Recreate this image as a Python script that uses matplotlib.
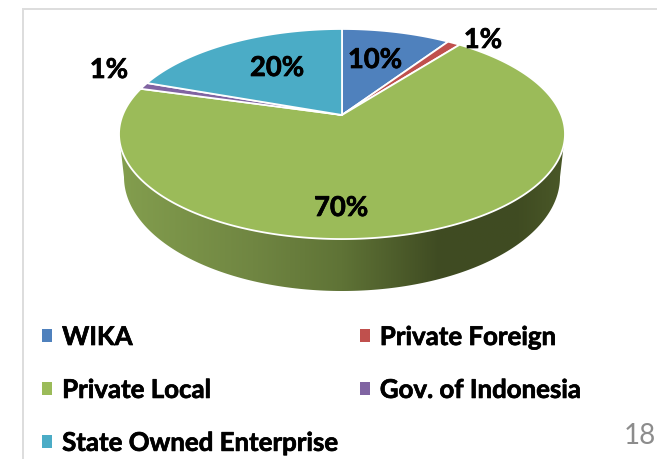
import numpy as np
import matplotlib
matplotlib.use("Agg")
import matplotlib.pyplot as plt
import matplotlib.patheffects as pe
from matplotlib.colors import LinearSegmentedColormap
from matplotlib.patches import Patch, Polygon
from matplotlib.path import Path
from matplotlib.transforms import Transform

categories = ["WIKA", "Private Foreign", "Private Local", "Gov. of Indonesia", "State Owned Enterprise"]
values = [9.4, 1.1, 68.9, 1.05, 19.6]
pct_labels = ["10%", "1%", "70%", "1%", "20%"]
colors = ["#4F81BD", "#C0504D", "#9BBB59", "#8064A2", "#4BACC6"]

label_xy = [(375, 61), (483, 41), (341, 209), (109, 71), (277, 69)]
legend_order = [0, 2, 4, 1, 3]

W, H = 657, 460
CX, CY, RA, RB, K = 342.0, 116.0, 219.3, 101.6, 0.181

plt.rcParams["font.family"] = ["Lato", "DejaVu Sans"]
thicken = [pe.withStroke(linewidth=0.5, foreground="black")]


class TiltedDisc(Transform):
    """Perspective view of the unit-circle pie, output in pixel-like data units."""
    input_dims = output_dims = 2
    is_separable = False
    has_inverse = False

    def transform_non_affine(self, xy):
        xy = np.asarray(xy, float)
        w = 1 + K * xy[:, 1]
        return np.column_stack([CX + RA * xy[:, 0] / w, CY - RB * xy[:, 1] / w])

    def transform_path_non_affine(self, path):
        pts = []
        for seg, code in path.iter_bezier():
            if code == Path.MOVETO:
                continue
            pts.append(seg(np.linspace(0, 1, 40)))
        return Path(self.transform_non_affine(np.vstack(pts)), closed=False)


fig = plt.figure(figsize=(W / 100, H / 100), dpi=100)
ax = fig.add_axes([0, 0, 1, 1])

wedges, _ = ax.pie(values, colors=colors, startangle=90, counterclock=False,
                   wedgeprops=dict(edgecolor="white", linewidth=1.3,
                                   transform=TiltedDisc() + ax.transData, zorder=3))

# side wall of the disc
t = np.linspace(0, 1, 200)
a = np.pi * t
top_x = CX - 223 * np.cos(a)
top_y = 135 + 105 * np.sin(a)
bot_x = CX - 218 * np.cos(a)
bot_y = 178 + 114 * np.sin(a)
wall = Polygon(np.column_stack([np.r_[top_x, bot_x[::-1]], np.r_[top_y, bot_y[::-1]]]),
               closed=True, transform=ax.transData, facecolor="none", edgecolor="none")
ax.add_patch(wall)
cmap = LinearSegmentedColormap.from_list("wall", [
    (0.00, "#839E4E"), (0.30, "#708642"), (0.50, "#5F7336"),
    (0.72, "#3F4B22"), (0.90, "#404C22"), (1.00, "#4A5828")])
im = ax.imshow(np.linspace(0, 1, 256)[None, :], cmap=cmap, aspect="auto",
               extent=(119, 565, 300, 130), zorder=2)
im.set_clip_path(wall)

for txt, (x, y) in zip(pct_labels, label_xy):
    ax.text(x, y, txt, ha="center", va="center", fontsize=19.7, fontweight="bold",
            color="black", zorder=5, path_effects=thicken)

handles = [Patch(facecolor=colors[i], edgecolor="none") for i in legend_order]
labels = [categories[i] for i in legend_order]
leg = ax.legend(handles, labels, ncol=2, loc="upper left", bbox_to_anchor=(42 / W, 1 - 326 / H),
                bbox_transform=fig.transFigure, frameon=False, borderpad=0, borderaxespad=0,
                handlelength=0.39, handleheight=0.39, handletextpad=0.39, labelspacing=1.12,
                columnspacing=0.77, prop=dict(family="Lato", weight="bold", size=18.6))
for text in leg.get_texts():
    text.set_path_effects(thicken)

ax.text(656, 436, "18", ha="right", va="center", fontsize=20, color="#8C8C8C", family="Lato")

ax.plot([23, 657], [10, 10], color="#DDDDDD", lw=1.4, zorder=1)
ax.plot([23, 23], [10, 460], color="#DDDDDD", lw=1.4, zorder=1)

ax.set_aspect("auto")
ax.set_xlim(0, W)
ax.set_ylim(H, 0)
ax.axis("off")
fig.savefig("out.png", dpi=100)
